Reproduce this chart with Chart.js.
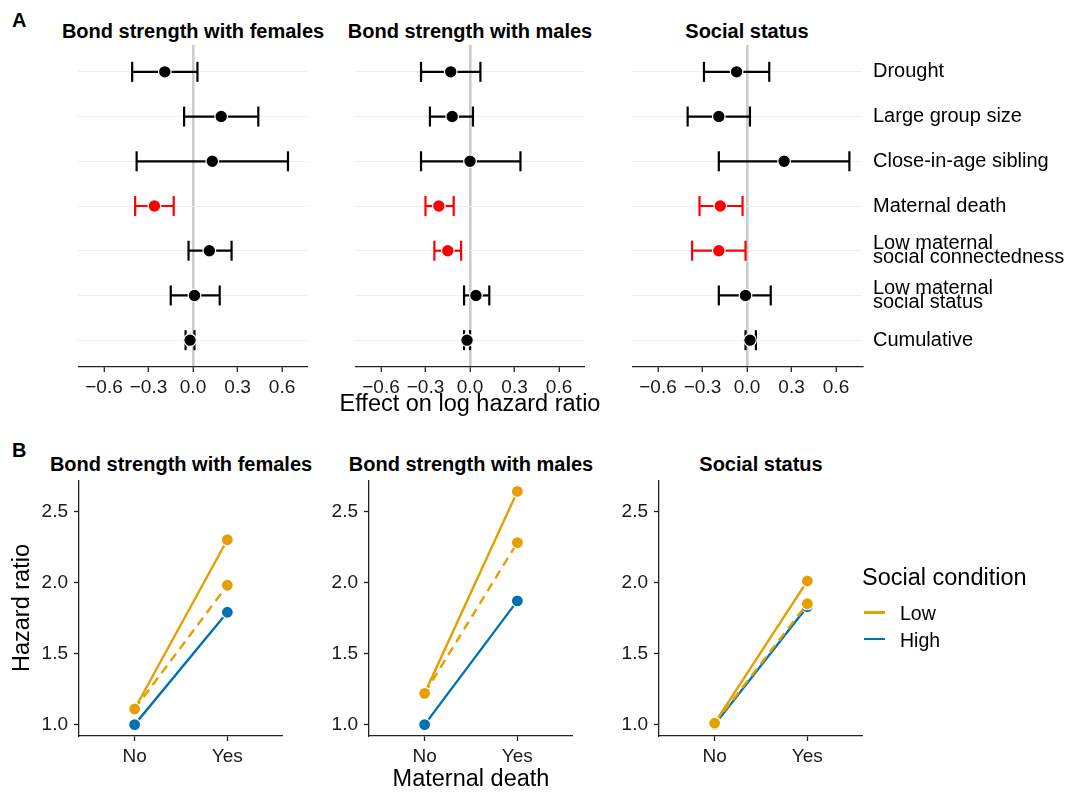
<!DOCTYPE html>
<html>
<head>
<meta charset="utf-8">
<script src="https://cdn.jsdelivr.net/npm/chart.js@4.4.1/dist/chart.umd.min.js"></script>
<style>
  body { margin: 0; background: #fff; width: 1068px; height: 792px; overflow: hidden; position: relative;
         font-family: "Liberation Sans", Arial, sans-serif; color: #000; }
  canvas { position: absolute; }
  .ttl { position: absolute; width: 400px; text-align: center; font-weight: bold; font-size: 20px; line-height: 24px; white-space: nowrap; }
  .tag { position: absolute; font-weight: bold; font-size: 20px; line-height: 24px; }
  .leg { position: absolute; white-space: nowrap; }
  .key { position: absolute; width: 21px; height: 2.6px; }
</style>
</head>
<body>
<div class="tag" style="left:12px;top:8px">A</div>
<div class="tag" style="left:12px;top:438px">B</div>

<canvas id="a1" width="230" height="372" style="left:78px;top:45px"></canvas>
<canvas id="a2" width="230" height="372" style="left:355px;top:45px"></canvas>
<canvas id="a3" width="436" height="372" style="left:632px;top:45px"></canvas>
<canvas id="b1" width="283" height="314" style="left:0px;top:480px"></canvas>
<canvas id="b2" width="264" height="314" style="left:309px;top:480px"></canvas>
<canvas id="b3" width="264" height="314" style="left:599px;top:480px"></canvas>

<div id="titles"></div>
<div id="legend"></div>

<script>
// ---- panel A: effects on log hazard ratio ----
const categories = ['Drought', 'Large group size', 'Close-in-age sibling', 'Maternal death',
  ['Low maternal', 'social connectedness'], ['Low maternal', 'social status'], 'Cumulative'];
const panelTitles = ['Bond strength with females', 'Bond strength with males', 'Social status'];
const xTicksA = [-0.6, -0.3, 0, 0.3, 0.6];
const xTitleA = 'Effect on log hazard ratio';

const femalesEst = [-0.19, 0.19, 0.13, -0.26, 0.11, 0.01, -0.02];
const femalesLo  = [-0.41, -0.06, -0.38, -0.39, -0.03, -0.15, -0.05];
const femalesHi  = [0.03, 0.44, 0.64, -0.13, 0.26, 0.18, 0.01];
const femalesSig = [0, 0, 0, 1, 0, 0, 0];

const malesEst = [-0.13, -0.12, 0.00, -0.21, -0.15, 0.04, -0.02];
const malesLo  = [-0.33, -0.27, -0.33, -0.30, -0.24, -0.04, -0.04];
const malesHi  = [0.07, 0.02, 0.34, -0.11, -0.06, 0.13, 0.00];
const malesSig = [0, 0, 0, 1, 1, 0, 0];

const statusEst = [-0.07, -0.19, 0.25, -0.18, -0.19, -0.01, 0.02];
const statusLo  = [-0.29, -0.40, -0.19, -0.32, -0.37, -0.19, -0.01];
const statusHi  = [0.15, 0.02, 0.69, -0.03, -0.01, 0.16, 0.06];
const statusSig = [0, 0, 0, 1, 1, 0, 0];

// ---- panel B: hazard ratio by maternal death ----
const maternalDeath = ['No', 'Yes'];
const yTicksB = [1.0, 1.5, 2.0, 2.5];
const femalesLow = [1.11, 2.30];
const femalesLowDashed = [1.11, 1.98];
const femalesHigh = [1.00, 1.79];
const malesLow = [1.22, 2.64];
const malesLowDashed = [1.22, 2.28];
const malesHigh = [1.00, 1.87];
const statusLow = [1.01, 2.01];
const statusLowDashed = [1.01, 1.85];
const statusHigh = [1.00, 1.83];

const legendTitle = 'Social condition';
const legendLabels = ['Low', 'High'];

const BLACK = '#000000', RED = '#ff0000', ORANGE = '#E69F00', BLUE = '#0072B2', AXIS = '#222222';
const FONT = '"Liberation Sans", Arial, sans-serif';

Chart.defaults.font.family = FONT;
Chart.defaults.color = '#1a1a1a';

const minus = v => (v < 0 ? '\u2212' : '') + Math.abs(v).toFixed(1);

// fixed axis box size, and no extra padding for overflowing labels
const fixBox = (w, h) => s => {
  if (w !== null) s.width = w;
  if (h !== null) s.height = h;
  s.paddingTop = 0; s.paddingBottom = 0; s.paddingLeft = 0; s.paddingRight = 0;
};

function forest(id, est, lo, hi, sig, withLabels) {
  const col = sig.map(s => (s ? RED : BLACK));
  // one small line per row for the interval, caps are rotated 'line' points
  const bars = categories.map((c, i) => ({
    data: [{ x: lo[i], y: i + 1 }, { x: hi[i], y: i + 1 }],
    showLine: true,
    borderColor: col[i],
    borderWidth: 2.2,
    pointStyle: 'line',
    pointRotation: 90,
    pointRadius: 10,
    pointBorderColor: col[i],
    pointBorderWidth: 2.2,
    order: 1
  }));
  const dots = {
    data: est.map((v, i) => ({ x: v, y: i + 1 })),
    pointRadius: 6.3,
    pointBackgroundColor: col,
    pointBorderColor: '#ffffff',
    pointBorderWidth: 1.2,
    order: 0
  };
  new Chart(document.getElementById(id), {
    type: 'scatter',
    data: { datasets: [dots, ...bars] },
    options: {
      responsive: false,
      animation: false,
      layout: { autoPadding: false, padding: 0 },
      plugins: { legend: { display: false }, tooltip: { enabled: false } },
      scales: {
        x: {
          type: 'linear', min: -0.775, max: 0.775,
          afterBuildTicks: s => { s.ticks = xTicksA.map(v => ({ value: v })); },
          afterFit: fixBox(null, 50),
          grid: {
            color: c => (c.tick && c.tick.value === 0 ? '#cccccc' : 'rgba(0,0,0,0)'),
            lineWidth: 2.6,
            drawTicks: true, tickLength: 5, tickColor: AXIS, tickWidth: 1.3
          },
          border: { display: true, color: AXIS, width: 1.3 },
          ticks: { padding: 4, font: { size: 19 }, callback: v => minus(v) }
        },
        y: {
          type: 'linear', reverse: true, min: 0.4, max: 7.6,
          position: withLabels ? 'right' : 'left',
          afterBuildTicks: s => { s.ticks = categories.map((c, i) => ({ value: i + 1 })); },
          afterFit: fixBox(withLabels ? 206 : 0, null),
          grid: { color: '#efefef', lineWidth: 1, drawTicks: false },
          border: { display: false },
          ticks: { display: withLabels, padding: 11, color: '#000', font: { size: 20, lineHeight: '14px' },
                   callback: (v, i) => categories[i] }
        }
      }
    }
  });
}

function hazard(id, low, lowDashed, high, yWidth, yTitle, xTitle) {
  const line = (vals, color, dash) => ({
    data: vals.map((v, i) => ({ x: i + 1, y: v })),
    showLine: true,
    borderColor: color,
    borderWidth: 2.4,
    borderDash: dash,
    pointRadius: 6,
    pointBackgroundColor: color,
    pointBorderColor: '#ffffff',
    pointBorderWidth: 1.2
  });
  new Chart(document.getElementById(id), {
    type: 'scatter',
    data: { datasets: [line(low, ORANGE, []), line(lowDashed, ORANGE, [9, 6]), line(high, BLUE, [])] },
    options: {
      responsive: false,
      animation: false,
      layout: { autoPadding: false, padding: 0 },
      plugins: { legend: { display: false }, tooltip: { enabled: false } },
      scales: {
        x: {
          type: 'linear', min: 0.4, max: 2.6,
          afterBuildTicks: s => { s.ticks = maternalDeath.map((c, i) => ({ value: i + 1 })); },
          afterFit: fixBox(null, 58),
          grid: { drawOnChartArea: false, drawTicks: true, tickLength: 5, tickColor: AXIS, tickWidth: 1.3 },
          border: { display: true, color: AXIS, width: 1.3 },
          ticks: { padding: 4, font: { size: 19 }, callback: (v, i) => maternalDeath[i] },
          title: { display: !!xTitle, text: xTitle || '', color: '#000', font: { size: 23.5 }, padding: { top: 0, bottom: 0 } }
        },
        y: {
          type: 'linear', min: 0.92, max: 2.72,
          afterBuildTicks: s => { s.ticks = yTicksB.map(v => ({ value: v })); },
          afterFit: fixBox(yWidth, null),
          grid: { drawOnChartArea: false, drawTicks: true, tickLength: 5, tickColor: AXIS, tickWidth: 1.3 },
          border: { display: true, color: AXIS, width: 1.3 },
          ticks: { padding: 6, font: { size: 19 }, callback: v => v.toFixed(1) },
          title: { display: !!yTitle, text: yTitle || '', color: '#000', font: { size: 23.5 }, padding: { top: 8, bottom: 0 } }
        }
      }
    }
  });
}

forest('a1', femalesEst, femalesLo, femalesHi, femalesSig, false);
forest('a2', malesEst, malesLo, malesHi, malesSig, false);
forest('a3', statusEst, statusLo, statusHi, statusSig, true);

hazard('b1', femalesLow, femalesLowDashed, femalesHigh, 79, 'Hazard ratio', null);
hazard('b2', malesLow, malesLowDashed, malesHigh, 60, null, 'Maternal death');
hazard('b3', statusLow, statusLowDashed, statusHigh, 60, null, null);

// facet titles, centred over each plot area
const titleBox = document.getElementById('titles');
const centresA = [193, 470, 747], centresB = [181, 471, 761];
panelTitles.forEach((t, i) => {
  [[centresA[i], 18.8], [centresB[i], 452]].forEach(([cx, top]) => {
    const d = document.createElement('div');
    d.className = 'ttl';
    d.style.left = (cx - 200) + 'px';
    d.style.top = top + 'px';
    d.textContent = t;
    titleBox.appendChild(d);
  });
});
// shared x title of panel A (wider than one plot, so not a Chart.js scale title)
const xt = document.createElement('div');
xt.className = 'leg';
xt.style.cssText = 'left:270px;width:400px;text-align:center;top:388.5px;font-size:23.5px;line-height:28px';
xt.textContent = xTitleA;
titleBox.appendChild(xt);

// legend for panel B
const leg = document.getElementById('legend');
const lt = document.createElement('div');
lt.className = 'leg';
lt.style.cssText = 'left:862px;top:563px;font-size:23.5px;line-height:28px';
lt.textContent = legendTitle;
leg.appendChild(lt);
[ORANGE, BLUE].forEach((c, i) => {
  const k = document.createElement('div');
  k.className = 'key';
  k.style.cssText = `left:864px;top:${611 + i * 26.5}px;background:${c}`;
  leg.appendChild(k);
  const l = document.createElement('div');
  l.className = 'leg';
  l.style.cssText = `left:900px;top:${601 + i * 26.5}px;font-size:19.5px;line-height:24px`;
  l.textContent = legendLabels[i];
  leg.appendChild(l);
});
</script>
</body>
</html>
